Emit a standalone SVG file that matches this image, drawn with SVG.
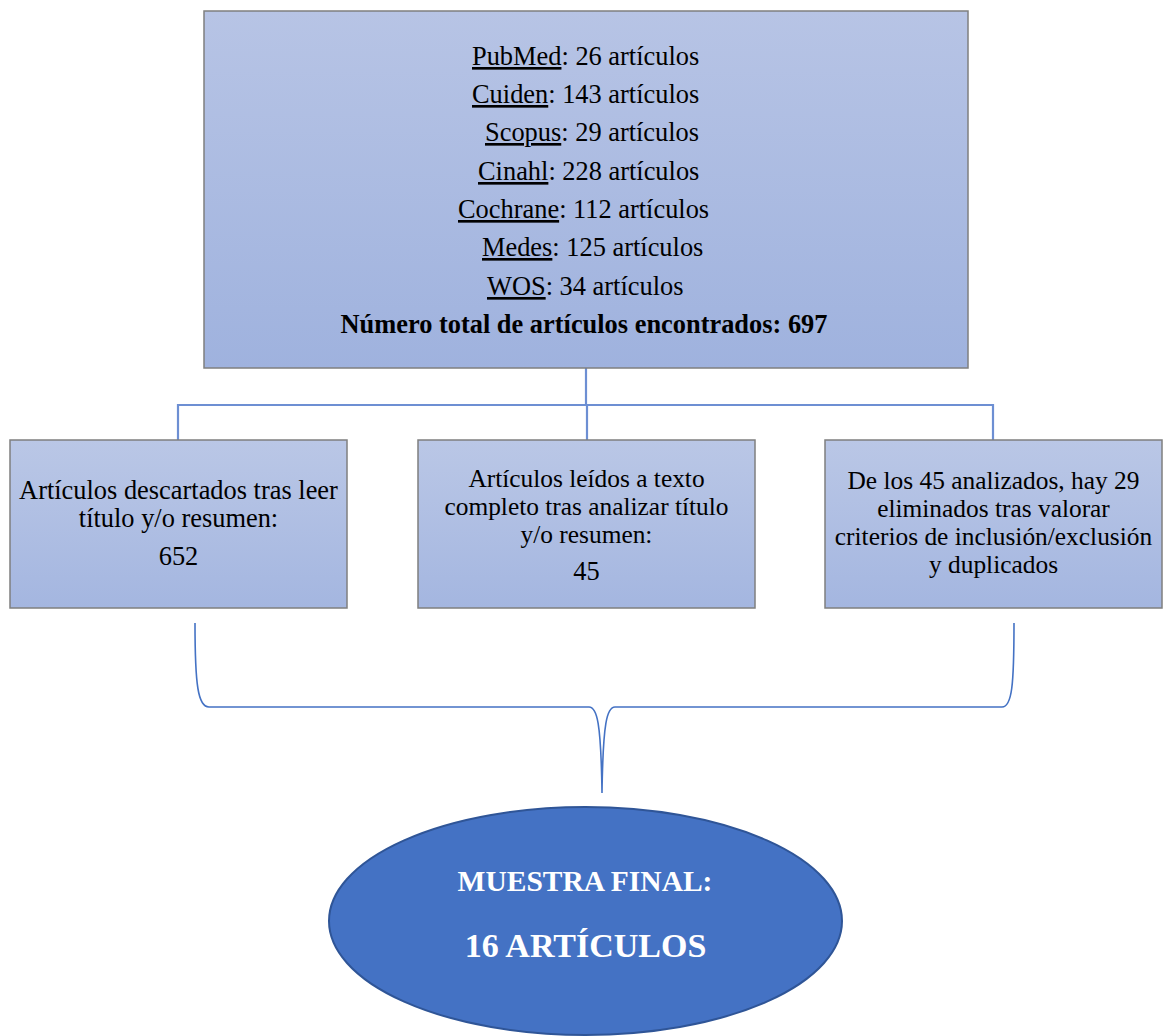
<svg xmlns="http://www.w3.org/2000/svg" width="1166" height="1036" viewBox="0 0 1166 1036">
<defs>
<linearGradient id="gTop" x1="0" y1="0" x2="0" y2="1">
<stop offset="0" stop-color="#b7c4e5"/>
<stop offset="1" stop-color="#9fb2de"/>
</linearGradient>
<linearGradient id="gBox" x1="0" y1="0" x2="0" y2="1">
<stop offset="0" stop-color="#bac7e6"/>
<stop offset="1" stop-color="#a4b6e0"/>
</linearGradient>
<style>
.box{stroke:#7f7f7f;stroke-width:1.5}
.t{font-family:"Liberation Serif","Times New Roman",serif;font-size:26.4px;fill:#000}
.s{font-size:25.4px}
.c{text-anchor:middle}
.b{font-weight:bold}
.u{text-decoration:underline}
.conn{fill:none;stroke:#6d8fd3;stroke-width:2.2}
.brace{fill:none;stroke:#4472c4;stroke-width:1.6}
.w{font-family:"Liberation Serif","Times New Roman",serif;font-weight:bold;fill:#fff;text-anchor:middle}
</style>
</defs>
<rect width="1166" height="1036" fill="#fff"/>
<g id="connectors">
<path class="conn" d="M586,368 L586,405 M178,440 L178,405 L993,405 L993,440 M587,405 L587,440"/>
<path class="brace" d="M195,623 C195,685 198,707 209,707 L589,707 C597,707 601,722 602,793 C603,722 607,707 615,707 L1002,707 C1012,707 1014,685 1014,623"/>
</g>
<g id="sources">
<rect class="box" x="204" y="11" width="764" height="357" fill="url(#gTop)"/>
<text class="t" x="472" y="65"><tspan class="u">PubMed</tspan>: 26 artículos</text>
<text class="t" x="472" y="103"><tspan class="u">Cuiden</tspan>: 143 artículos</text>
<text class="t" x="485" y="141"><tspan class="u">Scopus</tspan>: 29 artículos</text>
<text class="t" x="478" y="180"><tspan class="u">Cinahl</tspan>: 228 artículos</text>
<text class="t" x="458" y="218"><tspan class="u">Cochrane</tspan>: 112 artículos</text>
<text class="t" x="482" y="256"><tspan class="u">Medes</tspan>: 125 artículos</text>
<text class="t" x="487" y="295"><tspan class="u">WOS</tspan>: 34 artículos</text>
<text class="t c b" x="584" y="333">Número total de artículos encontrados: 697</text>
</g>
<g id="descartados">
<rect class="box" x="10" y="440" width="337" height="168" fill="url(#gBox)"/>
<text class="t c" x="178.5" y="499">Artículos descartados tras leer</text>
<text class="t c" x="178.5" y="527">título y/o resumen:</text>
<text class="t c" x="178.5" y="565">652</text>
</g>
<g id="leidos">
<rect class="box" x="418" y="440" width="337" height="168" fill="url(#gBox)"/>
<text class="t s c" x="586.5" y="487">Artículos leídos a texto</text>
<text class="t s c" x="586.5" y="515">completo tras analizar título</text>
<text class="t s c" x="586.5" y="543">y/o resumen:</text>
<text class="t c" x="586.5" y="580">45</text>
</g>
<g id="eliminados">
<rect class="box" x="825" y="440" width="337" height="168" fill="url(#gBox)"/>
<text class="t s c" x="993.5" y="489">De los 45 analizados, hay 29</text>
<text class="t s c" x="993.5" y="517">eliminados tras valorar</text>
<text class="t s c" x="993.5" y="545">criterios de inclusión/exclusión</text>
<text class="t s c" x="993.5" y="573">y duplicados</text>
</g>
<g id="muestra">
<ellipse cx="585.5" cy="921" rx="256.5" ry="114" fill="#4472c4" stroke="#2f5597" stroke-width="2"/>
<text class="w" x="585" y="891" font-size="29.5">MUESTRA FINAL:</text>
<text class="w" x="585.5" y="957" font-size="34">16 ARTÍCULOS</text>
</g>
</svg>
